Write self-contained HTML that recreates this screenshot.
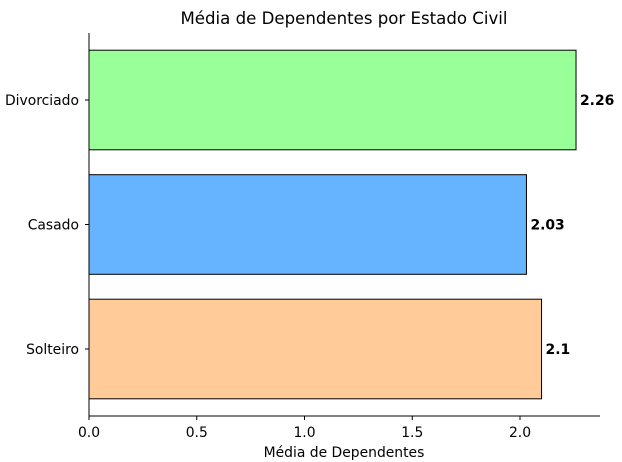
<!DOCTYPE html>
<html><head><meta charset="utf-8"><style>
body{margin:0;background:#fff;}
svg{display:block;font-family:"DejaVu Sans","Liberation Sans",sans-serif;}
</style></head><body>
<svg id="chart" width="622" height="462"></svg>
<script>
const categories = ["Solteiro","Casado","Divorciado"];
const values = [2.1, 2.03, 2.26];
const valueLabels = ["2.1","2.03","2.26"];
const barColors = ["#ffcc99","#66b3ff","#99ff99"];
const xTicks = [0,0.5,1.0,1.5,2.0];
const xTickLabels = ["0.0","0.5","1.0","1.5","2.0"];

const NS="http://www.w3.org/2000/svg";
const svg=document.getElementById('chart');
const x0=89, xScale=215.5;
const xs=v=>x0+v*xScale;
const yTop=33, yBot=416, xRight=600;
const catSpacing=124.5, firstCenter=349;
const ys=i=>firstCenter-i*catSpacing;
const bh=0.8*catSpacing;
const FS=13.9;
function mk(tag,attrs,text){const e=document.createElementNS(NS,tag);for(const k in attrs)e.setAttribute(k,attrs[k]);if(text!==undefined)e.textContent=text;svg.appendChild(e);return e;}

let t=mk('text',{x:344,y:24,'text-anchor':'middle','font-size':16.6,fill:'#000'},'Média de Dependentes por Estado Civil');



categories.forEach((c,i)=>{
  const r=mk('rect',{x:xs(0),y:ys(i)-bh/2,width:xs(values[i])-xs(0),height:bh,fill:barColors[i],stroke:'#000','stroke-width':1});
  
  
  const v=mk('text',{x:xs(values[i])+4,y:ys(i)+5,'font-size':FS,'font-weight':'bold',fill:'#000'},valueLabels[i]);
  
  
  const tk=mk('line',{x1:x0-4,x2:x0,y1:ys(i),y2:ys(i),stroke:'#000'});
  
  
  const l=mk('text',{x:x0-10,y:ys(i)+5,'text-anchor':'end','font-size':FS,fill:'#000'},c);
  
  
});

xTicks.forEach((v,i)=>{
  const tk=mk('line',{x1:xs(v),x2:xs(v),y1:yBot,y2:yBot+4,stroke:'#000'});
  
  
  const l=mk('text',{x:xs(v),y:yBot+21,'text-anchor':'middle','font-size':FS,fill:'#000'},xTickLabels[i]);
  
  
});

const ls=mk('line',{x1:x0,x2:x0,y1:yTop,y2:yBot,stroke:'#000'});


const bs=mk('line',{x1:x0,x2:xRight,y1:yBot,y2:yBot,stroke:'#000'});



const xl=mk('text',{x:344,y:457,'text-anchor':'middle','font-size':FS,fill:'#000'},'Média de Dependentes');


</script>
</body></html>
